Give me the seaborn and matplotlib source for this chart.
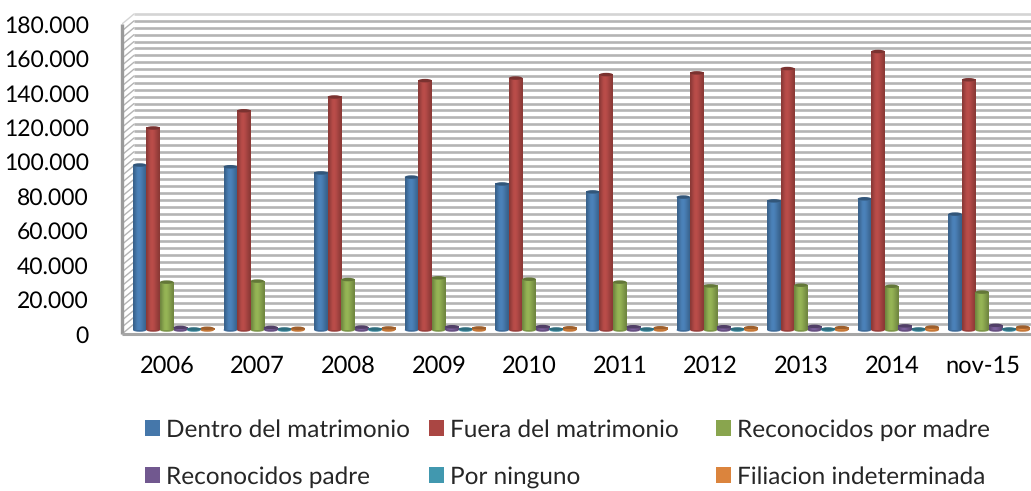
import numpy as np
import pandas as pd
import matplotlib
matplotlib.use("Agg")
import matplotlib.pyplot as plt
from matplotlib.patches import Ellipse, Patch
import seaborn as sns

years = ["2006", "2007", "2008", "2009", "2010", "2011", "2012", "2013", "2014", "nov-15"]
dentro = [95800, 94800, 91200, 88800, 84800, 80200, 77200, 75000, 76200, 67300]
fuera = [117300, 127300, 135300, 144800, 146300, 148300, 149300, 151800, 161700, 145300]
madre = [27800, 28400, 29300, 30300, 29500, 27800, 25600, 26000, 25400, 22000]
padre = [1500, 1500, 1700, 1900, 2000, 1900, 1900, 2100, 2400, 2700]
ninguno = [600, 600, 600, 600, 600, 600, 600, 600, 600, 600]
indet = [1000, 1000, 1200, 1200, 1300, 1300, 1400, 1400, 1700, 1700]
names = ["Dentro del matrimonio", "Fuera del matrimonio", "Reconocidos por madre",
         "Reconocidos padre", "Por ninguno", "Filiacion indeterminada"]
colors = ["#4577AA", "#AA4643", "#89A54E", "#71588F", "#4198AF", "#DB843D"]
ticks = list(range(0, 180001, 20000))
tick_labels = ["0"] + [f"{t // 1000}.000" for t in ticks[1:]]

W, H = 1031, 491
PX_Y = 180000 / 310          # data units per pixel, vertical
PX_X = 1 / 90.6              # category units per pixel, horizontal

df = pd.DataFrame({"year": years * 6,
                   "serie": np.repeat(names, 10),
                   "valor": dentro + fuera + madre + padre + ninguno + indet})

sns.set_theme(style="white")
plt.rcParams["font.family"] = ["Lato", "DejaVu Sans"]
plt.rcParams["text.hinting"] = "no_hinting"
fig = plt.figure(figsize=(W / 100, H / 100), dpi=100)
ax = fig.add_axes([122 / W, 1 - 340 / H, (W - 122) / W, 330 / H])

sns.barplot(data=df, x="year", y="valor", hue="serie", hue_order=names, palette=colors,
            width=0.895, gap=0, saturation=1, legend=False, ax=ax, zorder=3)

xmin = (122 - 173.5) * PX_X
xmax = (W - 173.5) * PX_X
ymin, ymax = -10 * PX_Y, 180000 + 10 * PX_Y

# 3-D box: back wall, left wall, floor
back_dx, back_dy = 12 * PX_X, 6 * PX_Y
front_dy = -4 * PX_Y
grid = "#b4b4b4"
for v in range(0, 180001, 4000):
    c = "#d4d4d4" if v == 180000 else grid
    ax.plot([xmin + back_dx, xmax], [v + back_dy] * 2, color=c, lw=1.9, zorder=1, solid_capstyle="butt")
    ax.plot([xmin, xmin + back_dx], [v + front_dy, v + back_dy], color=c, lw=1.0, zorder=1)
ax.plot([xmin, xmin], [front_dy, 180000 + front_dy], color="#9a9a9a", lw=2.4, zorder=2, solid_capstyle="butt", clip_on=False)
ax.plot([xmin, xmax], [front_dy, front_dy], color="#a6a6a6", lw=2.2, zorder=2, solid_capstyle="butt")

# cylinder shading on top of the seaborn bars
shade = np.array([0.82, 0.95, 1.06, 1.1, 1.06, 0.98, 0.9, 0.82])
cap_h = 3.5 * PX_Y
for bar in list(ax.patches):
    x0, w, h = bar.get_x(), bar.get_width(), bar.get_height()
    rgb = np.array(bar.get_facecolor()[:3])
    grad = np.clip(rgb[None, None, :] * shade[None, :, None], 0, 1)
    ax.add_patch(Ellipse((x0 + w / 2, 0), w, cap_h, color=tuple(rgb * 0.9), zorder=3.1, lw=0))
    ax.imshow(grad, extent=(x0, x0 + w, 0, h), aspect="auto", interpolation="bilinear", zorder=3.2)
    ax.add_patch(Ellipse((x0 + w / 2, h), w, cap_h, color=tuple(rgb * 0.72), zorder=3.3, lw=0))
    bar.set_visible(False)

ax.set_xlim(xmin, xmax)
ax.set_ylim(ymin, ymax)
ax.set_xlabel("")
ax.set_ylabel("")
ax.set_xticks(np.arange(10) - 6.5 * PX_X, years)
ax.set_yticks(np.array(ticks) + front_dy, tick_labels)
ax.tick_params(axis="x", length=0, labelsize=17, labelcolor="black", pad=11)
ax.tick_params(axis="y", length=0, labelsize=16.5, labelcolor="black", pad=24)
for s in ax.spines.values():
    s.set_visible(False)
ax.patch.set_alpha(0)

# legend: three columns of uneven width, as in the original
handles = [Patch(facecolor=c, edgecolor="none") for c in colors]
for col, x_px in enumerate([140, 424, 711]):
    fig.legend(handles=[handles[col], handles[col + 3]], labels=[names[col], names[col + 3]],
               loc="upper left", bbox_to_anchor=(x_px / W, 1 - 414 / H), frameon=False,
               fontsize=17.6, handlelength=0.62, handleheight=0.62, handletextpad=0.25,
               labelspacing=1.05, borderpad=0.2, borderaxespad=0)

fig.savefig("out.png", dpi=100)
